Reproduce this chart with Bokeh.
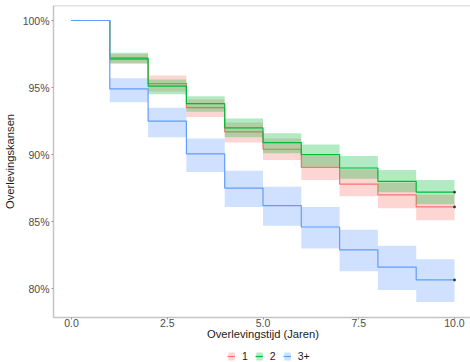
from bokeh.plotting import figure
from bokeh.layouts import column
from bokeh.models import Range1d, NumeralTickFormatter, FixedTicker, Legend, LegendItem, Span
from bokeh.embed import file_html
from bokeh.resources import INLINE

# Data
times = [0, 1, 2, 3, 4, 5, 6, 7, 8, 9, 10]
tick_x = [0.0, 2.5, 5.0, 7.5, 10.0]
tick_y = [0.80, 0.85, 0.90, 0.95, 1.00]
groups = ["1", "2", "3+"]

surv_1 = [1.0, 0.971, 0.953, 0.935, 0.917, 0.904, 0.8905, 0.878, 0.870, 0.861, 0.861]
low_1 = [1.0, 0.968, 0.947, 0.928, 0.909, 0.896, 0.881, 0.869, 0.860, 0.851, 0.851]
up_1 = [1.0, 0.975, 0.959, 0.941, 0.924, 0.912, 0.899, 0.889, 0.879, 0.870, 0.870]

surv_2 = [1.0, 0.972, 0.951, 0.938, 0.920, 0.909, 0.900, 0.890, 0.880, 0.872, 0.872]
low_2 = [1.0, 0.968, 0.945, 0.932, 0.913, 0.901, 0.891, 0.882, 0.872, 0.863, 0.863]
up_2 = [1.0, 0.976, 0.956, 0.9435, 0.927, 0.916, 0.9075, 0.899, 0.8885, 0.881, 0.881]

surv_3 = [1.0, 0.949, 0.925, 0.9005, 0.875, 0.862, 0.846, 0.829, 0.816, 0.8065, 0.8065]
low_3 = [1.0, 0.939, 0.913, 0.887, 0.861, 0.847, 0.830, 0.813, 0.799, 0.790, 0.790]
up_3 = [1.0, 0.957, 0.935, 0.912, 0.888, 0.876, 0.861, 0.844, 0.832, 0.822, 0.822]

colors = ["#F8766D", "#00BA38", "#619CFF"]
series = [(surv_1, low_1, up_1), (surv_2, low_2, up_2), (surv_3, low_3, up_3)]

FONT = "Liberation Sans"

p = figure(frame_width=419, frame_height=312, output_backend="svg", toolbar_location=None,
           x_range=Range1d(-0.47, 10.47), y_range=Range1d(0.7785, 1.0112),
           min_border_left=51, min_border_right=0, min_border_top=5, min_border_bottom=0)
p.outline_line_color = None
p.background_fill_color = "white"
p.border_fill_color = "white"
p.xgrid.visible = False
p.ygrid.visible = False

for (s, lo, up), c in zip(series, colors):
    p.varea_step(x=times, y1=lo, y2=up, step_mode="after", fill_color=c, fill_alpha=0.3)
    p.step(x=times, y=s, mode="after", line_color=c, line_width=1.2)

p.scatter(x=[times[-1]] * 3, y=[surv_1[-1], surv_2[-1], surv_3[-1]], size=2, color="#333333")

top = Span(location=1.0112, dimension="width", line_color="#c4c4c4", line_width=1.5)
p.add_layout(top)

for ax in (p.xaxis[0], p.yaxis[0]):
    ax.axis_line_color = "#c4c4c4"
    ax.axis_line_width = 1.5
    ax.major_tick_line_color = "#9a9a9a"
    ax.major_tick_in = 0
    ax.major_tick_out = 2
    ax.minor_tick_line_color = None
    ax.major_label_text_font = FONT
    ax.major_label_text_font_size = "10.5px"
    ax.major_label_text_color = "#4d4d4d"
    ax.axis_label_text_font = FONT
    ax.axis_label_text_font_size = "11.2px"
    ax.axis_label_text_font_style = "normal"
    ax.axis_label_text_color = "#1a1a1a"

p.xaxis[0].ticker = FixedTicker(ticks=tick_x)
p.xaxis[0].major_label_overrides = {0: "0.0", 2.5: "2.5", 5: "5.0", 7.5: "7.5", 10: "10.0"}
p.xaxis[0].axis_label = "Overlevingstijd (Jaren)"
p.xaxis[0].major_label_standoff = -1
p.xaxis[0].axis_label_standoff = -2

p.yaxis[0].ticker = FixedTicker(ticks=tick_y)
p.yaxis[0].formatter = NumeralTickFormatter(format="0%")
p.yaxis[0].axis_label = "Overlevingskansen"
p.yaxis[0].major_label_standoff = 2
p.yaxis[0].axis_label_standoff = 4

# Legend strip (its renderers sit outside the visible ranges; only the legend keys show)
q = figure(width=470, height=20, output_backend="svg", toolbar_location=None,
           x_axis_location=None, y_axis_location=None,
           x_range=Range1d(0, 1), y_range=Range1d(0, 1),
           min_border_left=0, min_border_right=0, min_border_top=0, min_border_bottom=0)
q.outline_line_color = None
q.xgrid.visible = False
q.ygrid.visible = False
q.border_fill_color = "white"
items = []
for c, g in zip(colors, groups):
    b = q.varea(x=[5, 6], y1=[5, 5], y2=[6, 6], fill_color=c, fill_alpha=0.3)
    l = q.line(x=[5, 6], y=[5, 5], line_color=c, line_width=1.2)
    items.append(LegendItem(label=g, renderers=[b, l]))

legend = Legend(items=items, orientation="horizontal", location=(174, 0),
                label_text_font=FONT, label_text_font_size="10.5px", label_text_color="#1a1a1a",
                glyph_width=8, glyph_height=10, spacing=7, padding=0, margin=0,
                label_standoff=7, label_width=0, label_height=10,
                border_line_color=None, background_fill_alpha=0)
q.add_layout(legend)

layout = column(p, q, spacing=0)
open("out.html", "w").write(file_html(layout, INLINE))
